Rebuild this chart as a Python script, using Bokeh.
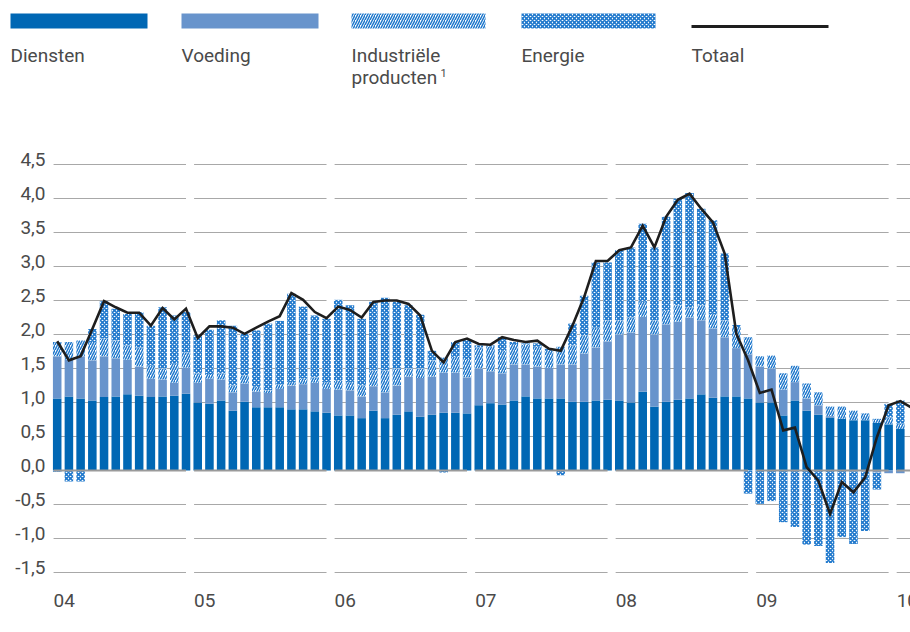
from bokeh.plotting import figure
from bokeh.models import Range1d
from bokeh.core.properties import value
from bokeh.embed import file_html
from bokeh.resources import INLINE

# ---------------- data (monthly, Jan 2004 .. Jan 2010) ----------------
years = ["04", "05", "06", "07", "08", "09", "10"]

diensten = [
    1.06, 1.09, 1.06, 1.03, 1.08, 1.09, 1.12, 1.10, 1.08, 1.09, 1.10, 1.13,
    1.00, 0.98, 1.03, 0.88, 1.01, 0.93, 0.93, 0.93, 0.90, 0.90, 0.87, 0.85,
    0.81, 0.81, 0.77, 0.88, 0.77, 0.82, 0.87, 0.79, 0.82, 0.85, 0.85, 0.84,
    0.96, 0.99, 0.97, 1.03, 1.09, 1.06, 1.06, 1.06, 1.01, 1.01, 1.03, 1.04,
    1.03, 1.00, 1.16, 0.94, 1.01, 1.04, 1.06, 1.12, 1.07, 1.09, 1.09, 1.06,
    1.00, 1.00, 0.81, 1.03, 0.88, 0.82, 0.78, 0.76, 0.74, 0.74, 0.70, 0.68,
    0.61,
]
voeding = [
    0.62, 0.54, 0.62, 0.59, 0.60, 0.56, 0.51, 0.43, 0.27, 0.25, 0.19, 0.38,
    0.29, 0.37, 0.31, 0.27, 0.27, 0.23, 0.21, 0.27, 0.35, 0.37, 0.42, 0.35,
    0.38, 0.37, 0.32, 0.36, 0.38, 0.43, 0.51, 0.57, 0.56, 0.59, 0.59, 0.53,
    0.54, 0.47, 0.46, 0.53, 0.47, 0.47, 0.45, 0.50, 0.55, 0.71, 0.78, 0.86,
    0.97, 1.03, 1.10, 1.06, 1.14, 1.15, 1.19, 1.09, 1.02, 0.87, 0.71, 0.65,
    0.53, 0.50, 0.38, 0.27, 0.18, 0.14, 0.02, 0.00, -0.01, -0.02, -0.03, -0.04,
    -0.04,
]
industrie = [
    0.21, 0.26, 0.23, 0.27, 0.26, 0.26, 0.21, 0.28, 0.19, 0.16, 0.28, 0.23,
    0.14, 0.07, 0.09, 0.10, 0.12, 0.07, 0.04, 0.07, 0.05, 0.08, 0.08, 0.10,
    0.13, 0.12, 0.16, 0.23, 0.32, 0.25, 0.12, 0.14, 0.24, 0.22, 0.23, 0.27,
    0.31, 0.36, 0.33, 0.30, 0.29, 0.29, 0.25, 0.26, 0.28, 0.27, 0.29, 0.31,
    0.21, 0.22, 0.22, 0.21, 0.20, 0.24, 0.15, 0.22, 0.21, 0.25, 0.31, 0.25,
    0.15, 0.19, 0.24, 0.24, 0.22, 0.19, 0.14, 0.18, 0.14, 0.10, 0.06, 0.10,
    0.08,
]
energie = [
    -0.02, -0.16, -0.16, 0.19, 0.55, 0.47, 0.46, 0.52, 0.59, 0.90, 0.71, 0.59,
    0.56, 0.65, 0.78, 0.88, 0.61, 0.83, 0.98, 0.93, 1.30, 1.06, 0.91, 0.93,
    1.19, 1.13, 0.98, 1.01, 1.07, 0.98, 0.93, 0.79, 0.14, -0.03, 0.22, 0.28,
    0.03, 0.02, 0.20, 0.03, 0.02, 0.05, 0.03, -0.07, 0.32, 0.58, 0.96, 0.85,
    1.03, 1.03, 1.15, 1.07, 1.38, 1.57, 1.68, 1.42, 1.38, 0.98, 0.03, -0.34,
    -0.49, -0.45, -0.76, -0.83, -1.09, -1.11, -1.36, -0.98, -1.07, -0.87, -0.25, 0.20,
    0.34,
]
totaal = [
    1.90, 1.62, 1.68, 2.08, 2.49, 2.40, 2.32, 2.32, 2.13, 2.39, 2.22, 2.38,
    1.95, 2.12, 2.12, 2.10, 2.01, 2.10, 2.19, 2.27, 2.61, 2.51, 2.33, 2.24,
    2.41, 2.36, 2.25, 2.48, 2.50, 2.50, 2.45, 2.28, 1.76, 1.59, 1.89, 1.94,
    1.86, 1.85, 1.96, 1.92, 1.89, 1.91, 1.79, 1.76, 2.13, 2.55, 3.08, 3.08,
    3.24, 3.28, 3.60, 3.28, 3.73, 3.98, 4.07, 3.85, 3.65, 3.19, 2.01, 1.62,
    1.14, 1.19, 0.59, 0.63, 0.05, -0.15, -0.64, -0.17, -0.32, -0.10, 0.49, 0.96,
    1.02, 0.92,
]
y_ticks = [4.5, 4.0, 3.5, 3.0, 2.5, 2.0, 1.5, 1.0, 0.5, 0.0, -0.5, -1.0, -1.5]
series_names = ["Diensten", "Voeding", "Industriële", "Energie", "Totaal"]

# ---------------- styles ----------------
C_DIENST = "#0067b4"
C_VOED = "#6894cc"
C_HATCH = "#1f78cc"
C_TEXT = "#4a4a4a"
C_GRID = "#a8a8a8"
FONT = value("Roboto")
FS = "19px"

# layout helpers (pixel positions on the canvas -> data coordinates)
PX0, PXS = 56.7, 11.71      # canvas x of first month, px per month
PY0, PYS = 470.0, 68.0      # canvas y of value 0, px per unit
def dx(px):
    return (px - PX0) / PXS
def dy(py):
    return (PY0 - py) / PYS

W, H = 910, 632
p = figure(width=W, height=H, output_backend="svg", toolbar_location=None,
           x_axis_type=None, y_axis_type=None, min_border=0,
           x_range=Range1d(dx(0), dx(W)), y_range=Range1d(dy(H), dy(0)))
p.outline_line_color = None
p.background_fill_color = "white"
p.border_fill_color = "white"

n = len(diensten)
idx = list(range(n))

# ---------------- grid segments per year ----------------
seg_x0 = [12 * k - 0.31 for k in range(len(years))]
seg_x1 = [min(12 * k + 11.0, n + 2) for k in range(len(years))]
gx0, gx1, gy = [], [], []
for t in y_ticks:
    if t == 0.0:
        continue
    for a, b in zip(seg_x0, seg_x1):
        gx0.append(a); gx1.append(b); gy.append(t)
p.segment(x0=gx0, x1=gx1, y0=gy, y1=gy, line_color=C_GRID, line_width=1)

# ---------------- stacked bars ----------------
series = [diensten, voeding, industrie, energie]
pos = [0.0] * n
neg = [0.0] * n
stacks = []
for s in series:
    bot, top = [], []
    for i, v in enumerate(s):
        if v >= 0:
            bot.append(pos[i]); top.append(pos[i] + v); pos[i] += v
        else:
            bot.append(neg[i]); top.append(neg[i] + v); neg[i] += v
    stacks.append((bot, top))

HATCH_IND = dict(fill_color="white", hatch_pattern="/", hatch_color=C_HATCH,
                 hatch_scale=5, hatch_weight=1.5)
HATCH_EN = dict(fill_color="white", hatch_pattern="x", hatch_color=C_HATCH,
                hatch_scale=4, hatch_weight=1.6)

BW = 0.73
p.vbar(x=idx, width=BW, bottom=stacks[0][0], top=stacks[0][1],
       fill_color=C_DIENST, line_color=None)
p.vbar(x=idx, width=BW, bottom=stacks[1][0], top=stacks[1][1],
       fill_color=C_VOED, line_color=None)
p.vbar(x=idx, width=BW, bottom=stacks[2][0], top=stacks[2][1],
       line_color=None, **HATCH_IND)
p.vbar(x=idx, width=BW, bottom=stacks[3][0], top=stacks[3][1],
       line_color=None, **HATCH_EN)

# zero line
p.segment(x0=seg_x0, x1=seg_x1, y0=[0.0] * len(years), y1=[0.0] * len(years),
          line_color="#9a9a9a", line_width=2)

# total line
p.line(x=list(range(len(totaal))), y=totaal, line_color="#1e1e1e", line_width=2.6,
       line_join="miter")

# ---------------- axis labels ----------------
tick_labels = [f"{t:.1f}".replace(".", ",") for t in y_ticks]
p.text(x=[dx(45)] * len(y_ticks), y=[t + 5.5 / PYS for t in y_ticks], text=tick_labels,
       text_font=FONT, text_font_size=FS, text_color=C_TEXT,
       text_align="right", text_baseline="middle")
p.text(x=seg_x0, y=[dy(600)] * len(years), text=years,
       text_font=FONT, text_font_size=FS, text_color=C_TEXT,
       text_align="left", text_baseline="middle")

# ---------------- legend (top) ----------------
lx = [10, 181, 351, 521, 691]
lw = 137
ltop, lbot = dy(13), dy(28)
p.quad(left=[dx(lx[0])], right=[dx(lx[0] + lw)], top=[ltop], bottom=[lbot],
       fill_color=C_DIENST, line_color=None)
p.quad(left=[dx(lx[1])], right=[dx(lx[1] + lw)], top=[ltop], bottom=[lbot],
       fill_color=C_VOED, line_color=None)
p.quad(left=[dx(lx[2])], right=[dx(lx[2] + lw - 3)], top=[ltop], bottom=[lbot],
       line_color=None, **HATCH_IND)
p.quad(left=[dx(lx[3])], right=[dx(lx[3] + lw - 3)], top=[ltop], bottom=[lbot],
       line_color=None, **HATCH_EN)
p.segment(x0=[dx(lx[4])], x1=[dx(lx[4] + lw)], y0=[dy(26)], y1=[dy(26)],
          line_color="#1e1e1e", line_width=3)

p.text(x=[dx(x) for x in lx], y=[dy(55)] * 5, text=series_names,
       text_font=FONT, text_font_size=FS, text_color=C_TEXT,
       text_align="left", text_baseline="middle")
p.text(x=[dx(lx[2])], y=[dy(77)], text=["producten"],
       text_font=FONT, text_font_size=FS, text_color=C_TEXT,
       text_align="left", text_baseline="middle")
p.text(x=[dx(440)], y=[dy(72)], text=["1"],
       text_font=FONT, text_font_size="11px", text_color=C_TEXT,
       text_align="left", text_baseline="middle")

open("out.html", "w").write(file_html(p, INLINE))
